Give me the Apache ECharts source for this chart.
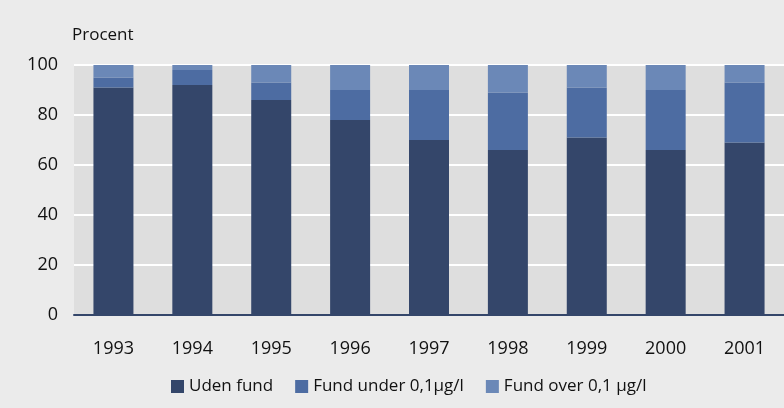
<!DOCTYPE html>
<html>
<head>
<meta charset="utf-8">
<script src="https://cdn.jsdelivr.net/npm/echarts@6/dist/echarts.min.js"></script>
<style>
  html, body { margin: 0; padding: 0; background: #ebebeb; }
  #chart { width: 784px; height: 408px; }
</style>
</head>
<body>
<div id="chart"></div>
<script>
// data (procent)
const years = ['1993', '1994', '1995', '1996', '1997', '1998', '1999', '2000', '2001']
const udenFund = [91, 92, 86, 78, 70, 66, 71, 66, 69]
const fundUnder = [4, 6, 7, 12, 20, 23, 20, 24, 24]
const fundOver = [5, 2, 7, 10, 10, 11, 9, 10, 7]

const FONT = '"Open Sans", "Noto Sans", sans-serif'

const chart = echarts.init(document.getElementById('chart'))

const bar = (name, data, color) => ({
  name,
  type: 'bar',
  stack: 'total',
  barWidth: 40,
  itemStyle: { color },
  data
})

chart.setOption({
  backgroundColor: '#ebebeb',
  title: {
    text: 'Procent',
    left: 67,
    top: 22,
    textStyle: { fontFamily: FONT, fontSize: 17, fontWeight: 'normal', color: '#111' }
  },
  legend: {
    bottom: 8,
    left: 166,
    itemWidth: 13,
    itemHeight: 13,
    itemGap: 22,
    icon: 'rect',
    textStyle: { fontFamily: FONT, fontSize: 17, color: '#111' },
    data: ['Uden fund', 'Fund under 0,1µg/l', 'Fund over 0,1 µg/l']
  },
  grid: {
    left: 74,
    right: 0,
    top: 65,
    bottom: 93,
    show: true,
    backgroundColor: '#dedede',
    borderWidth: 0
  },
  xAxis: {
    type: 'category',
    data: years,
    axisTick: { show: false },
    axisLine: { lineStyle: { color: '#34466a', width: 2 } },
    axisLabel: { fontFamily: FONT, fontSize: 18, color: '#111', margin: 25 }
  },
  yAxis: {
    type: 'value',
    min: 0,
    max: 100,
    interval: 20,
    axisLine: { show: false },
    axisTick: { show: false },
    splitLine: { lineStyle: { color: '#ffffff', width: 2 } },
    axisLabel: { fontFamily: FONT, fontSize: 18, color: '#111', margin: 16 }
  },
  series: [
    bar('Uden fund', udenFund, '#34466a'),
    bar('Fund under 0,1µg/l', fundUnder, '#4d6ca2'),
    bar('Fund over 0,1 µg/l', fundOver, '#6b88b7')
  ]
})
</script>
</body>
</html>
